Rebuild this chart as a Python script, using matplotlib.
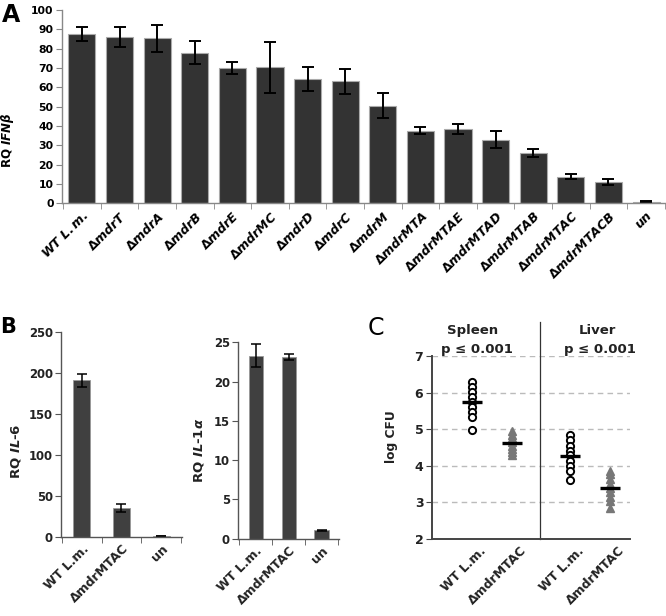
import numpy as np
import matplotlib.pyplot as plt
from matplotlib.transforms import ScaledTranslation

plt.rcParams['font.family'] = ['DejaVu Sans']
plt.rcParams['mathtext.fontset'] = 'custom'
plt.rcParams['mathtext.it'] = 'DejaVu Sans:italic:bold'
plt.rcParams['mathtext.rm'] = 'DejaVu Sans:bold'
plt.rcParams['mathtext.bf'] = 'DejaVu Sans:bold'

# ---- data -----------------------------------------------------------------
# A: IFN-beta induction by mdr mutants
strains_a = ["mdrT", "mdrA", "mdrB", "mdrE", "mdrMC", "mdrD", "mdrC", "mdrM",
             "mdrMTA", "mdrMTAE", "mdrMTAD", "mdrMTAB", "mdrMTAC", "mdrMTACB"]
rq_ifnb = [87.7, 86.0, 85.4, 77.9, 70.0, 70.3, 64.3, 63.2, 50.6,
           37.7, 38.5, 33.0, 26.1, 13.8, 11.2, 1.0]
err_ifnb = [3.5, 5.0, 7.0, 6.0, 3.0, 13.0, 6.0, 6.5, 6.4,
            2.0, 2.5, 4.3, 2.2, 1.2, 1.5, 0.3]

# B: IL-6 and IL-1alpha
groups_b = ["WT L.m.", "ΔmdrMTAC", "un"]
rq_il6 = [190.6, 35.0, 1.0]
err_il6 = [8.0, 4.5, 0.3]
rq_il1a = [23.3, 23.1, 1.05]
err_il1a = [1.45, 0.4, 0.05]

# C: bacterial burden (log CFU)
groups_c = ["WT L.m.", "ΔmdrMTAC", "WT L.m.", "ΔmdrMTAC"]
spleen_wt = [6.3, 6.15, 6.02, 5.87, 5.75, 5.6, 5.47, 5.32, 4.98]
spleen_mut = [4.95, 4.85, 4.75, 4.65, 4.55, 4.45, 4.36, 4.3]
liver_wt = [4.83, 4.69, 4.55, 4.41, 4.28, 4.14, 3.98, 3.84, 3.61]
liver_mut = [3.86, 3.77, 3.63, 3.51, 3.4, 3.27, 3.13, 3.04, 2.84]
means_c = [5.74, 4.62, 4.27, 3.39]

W, H = 666, 616
fig = plt.figure(figsize=(W / 100, H / 100), dpi=100)


def px_axes(x0, x1, y_top, y_bot):
    return fig.add_axes([x0 / W, 1 - y_bot / H, (x1 - x0) / W, (y_bot - y_top) / H])


def style_bar_axes(ax, n, ytick_size, spine_col):
    for s in ("top", "right"):
        ax.spines[s].set_visible(False)
    for s in ("left", "bottom"):
        ax.spines[s].set_color(spine_col)
        ax.spines[s].set_linewidth(1.0)
    ax.set_xlim(-0.53, n - 0.47)
    ax.set_xticks(np.arange(n))
    ax.set_xticks(np.arange(n + 1) - 0.5, minor=True)
    ax.tick_params(axis="x", which="major", length=0, pad=4)
    ax.tick_params(axis="x", which="minor", length=4, color=spine_col, direction="out")
    ax.tick_params(axis="y", length=4, color=spine_col, labelsize=ytick_size, pad=2)
    for lab in ax.get_yticklabels():
        lab.set_fontweight("bold")


# ---- panel A --------------------------------------------------------------
axA = px_axes(62, 666, 10, 203.5)
xa = np.arange(len(rq_ifnb))
axA.bar(xa, rq_ifnb, width=0.72, color="#333333", edgecolor="#aaaaaa", linewidth=0.8)
axA.errorbar(xa, rq_ifnb, yerr=err_ifnb, fmt="none", ecolor="black",
             elinewidth=1.4, capsize=4.5, capthick=1.4)
axA.set_ylim(0, 100)
axA.set_yticks(np.arange(0, 101, 10))
style_bar_axes(axA, len(rq_ifnb), 7.8, "#888888")
labels_a = [r"$\mathit{WT\ L.m.}$"] + ["Δ$\\mathit{%s}$" % s for s in strains_a] + [r"$\mathit{un}$"]
axA.set_xticklabels(labels_a, rotation=45, ha="right", rotation_mode="anchor",
                    fontsize=9, fontweight="bold")
fig.text(8 / W, 1 - 140 / H, r"RQ $\mathit{IFNβ}$", rotation=90, ha="center",
         va="center", fontsize=8.6, fontweight="bold")
fig.text(2 / W, 1 - 22 / H, "A", fontsize=17, fontweight="bold", va="baseline")

# ---- panel B --------------------------------------------------------------
xb = np.arange(len(groups_b))
axB1 = px_axes(61, 182, 331.7, 536.8)
axB1.bar(xb, rq_il6, width=0.43, color="#404040", edgecolor="#999999", linewidth=0.6)
axB1.errorbar(xb, rq_il6, yerr=err_il6, fmt="none", ecolor="black",
              elinewidth=1.1, capsize=3.5, capthick=1.1)
axB1.set_ylim(0, 250)
axB1.set_yticks(np.arange(0, 251, 50))
style_bar_axes(axB1, 3, 8.4, "#555555")

axB2 = px_axes(238.3, 339, 342.3, 538.6)
axB2.bar(xb, rq_il1a, width=0.43, color="#404040", edgecolor="#999999", linewidth=0.6)
axB2.errorbar(xb, rq_il1a, yerr=err_il1a, fmt="none", ecolor="black",
              elinewidth=1.1, capsize=3.5, capthick=1.1)
axB2.set_ylim(0, 25)
axB2.set_yticks(np.arange(0, 26, 5))
style_bar_axes(axB2, 3, 8.4, "#555555")

for ax in (axB1, axB2):
    ax.set_xticklabels(groups_b, rotation=45, ha="right", rotation_mode="anchor",
                       fontsize=9, fontweight="bold", color="#222222")
    for lab in ax.get_yticklabels():
        lab.set_color("#222222")

fig.text(16 / W, 1 - 451 / H, r"RQ $\mathit{IL}$-$\mathit{6}$", rotation=90,
         ha="center", va="center", fontsize=9.5, fontweight="bold", color="#222222")
fig.text(199 / W, 1 - 450 / H, r"RQ $\mathit{IL}$-$\mathit{1α}$", rotation=90,
         ha="center", va="center", fontsize=9.5, fontweight="bold", color="#222222")
fig.text(0 / W, 1 - 333 / H, "B", fontsize=15, fontweight="bold", va="baseline")

# ---- panel C --------------------------------------------------------------
axC = px_axes(431.7, 630, 356, 538.7)
xc = [1, 2, 3.45, 4.45]
axC.set_xlim(0, 4.95)
axC.set_ylim(2, 7)
axC.set_yticks(np.arange(2, 8, 1))
for y in range(3, 8):
    axC.axhline(y, color="#bbbbbb", linestyle=(0, (4, 3)), linewidth=1.0, zorder=0)

axC.plot([xc[0]] * len(spleen_wt), spleen_wt, "o", ms=5.2, mfc="white",
         mec="black", mew=1.4, zorder=3)
axC.plot([xc[1]] * len(spleen_mut), spleen_mut, "^", ms=5.5, color="#777777", zorder=3)
axC.plot([xc[2]] * len(liver_wt), liver_wt, "o", ms=5.2, mfc="white",
         mec="black", mew=1.4, zorder=3)
axC.plot([xc[3]] * len(liver_mut), liver_mut, "^", ms=5.5, color="#777777", zorder=3)
for x, m in zip(xc, means_c):
    axC.plot([x - 0.25, x + 0.25], [m, m], color="black", linewidth=2.4,
             solid_capstyle="butt", zorder=4)

axC.plot([2.7, 2.7], [2, 7.94], color="#333333", linewidth=0.9, clip_on=False)

for s in ("top", "right"):
    axC.spines[s].set_visible(False)
for s in ("left", "bottom"):
    axC.spines[s].set_color("#444444")
    axC.spines[s].set_linewidth(1.4)
axC.tick_params(axis="y", length=4, color="#444444", labelsize=9, pad=2,
                labelcolor="#222222")
for lab in axC.get_yticklabels():
    lab.set_fontweight("bold")
axC.set_xticks(xc)
axC.tick_params(axis="x", length=0, pad=4)
axC.set_xticklabels(groups_c, rotation=45, ha="right", rotation_mode="anchor",
                    fontsize=9, fontweight="bold", color="#222222")
shift = ScaledTranslation(8 / 100, 0, fig.dpi_scale_trans)
for lab in axC.get_xticklabels():
    lab.set_transform(lab.get_transform() + shift)

axC.text(1.02, 7.71, "Spleen", ha="center", va="center", fontsize=9.5,
         fontweight="bold", color="#222222")
axC.text(1.12, 7.19, "p ≤ 0.001", ha="center", va="center", fontsize=9.5,
         fontweight="bold", color="#222222")
axC.text(4.14, 7.71, "Liver", ha="center", va="center", fontsize=9.5,
         fontweight="bold", color="#222222")
axC.text(4.19, 7.19, "p ≤ 0.001", ha="center", va="center", fontsize=9.5,
         fontweight="bold", color="#222222")

fig.text(392 / W, 1 - 437 / H, "log CFU", rotation=90, ha="center", va="center",
         fontsize=8.8, fontweight="bold", color="#222222")
fig.text(368 / W, 1 - 335 / H, "C", fontsize=17, va="baseline")

fig.savefig("out.png", dpi=100)
